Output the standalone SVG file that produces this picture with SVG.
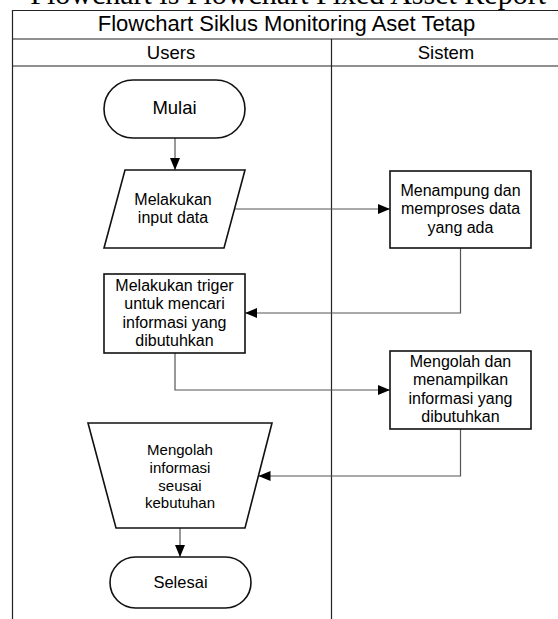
<svg xmlns="http://www.w3.org/2000/svg" width="558" height="619" viewBox="0 0 558 619">
<style>
  text { font-family: "Liberation Sans", Arial, sans-serif; fill: #000; text-anchor: middle; }
  .frame { fill: none; stroke: #222; stroke-width: 1.2; }
  .node { fill: #fff; stroke: #111; stroke-width: 1.6; }
  .conn { fill: none; stroke: #555; stroke-width: 1.2; }
  .t16 { font-size: 16px; }
  .t15 { font-size: 15px; }
</style>
<defs>
  <marker id="arrow" viewBox="0 0 12 10" refX="12" refY="5" markerWidth="12" markerHeight="10" markerUnits="userSpaceOnUse" orient="auto">
    <path d="M0,0 L12,5 L0,10 z" fill="#000"/>
  </marker>
</defs>
<rect width="558" height="619" fill="#fff"/>
<text x="546" y="4" style="font-family:'Liberation Serif','Times New Roman',serif;font-size:30px;text-anchor:end">Flowchart is Flowchart Fixed Asset Report</text>
<g id="frame">
  <path class="frame" d="M12.5,619 V10.5 H561 M12.5,39 H561 M12.5,66 H561 M331.5,39 V619"/>
  <text x="286.5" y="31" style="font-size:22px">Flowchart Siklus Monitoring Aset Tetap</text>
  <text x="171" y="58.5" style="font-size:18.5px">Users</text>
  <text x="446" y="58.5" style="font-size:18.5px">Sistem</text>
</g>
<g id="connectors">
  <line class="conn" x1="175" y1="138" x2="175" y2="170" marker-end="url(#arrow)"/>
  <line class="conn" x1="234" y1="209" x2="390" y2="209" marker-end="url(#arrow)"/>
  <polyline class="conn" points="460.5,248 460.5,313 245,313" marker-end="url(#arrow)"/>
  <polyline class="conn" points="175,353 175,390 390,390" marker-end="url(#arrow)"/>
  <polyline class="conn" points="460.5,429 460.5,476 258.5,476" marker-end="url(#arrow)"/>
  <line class="conn" x1="180" y1="528" x2="180" y2="557" marker-end="url(#arrow)"/>
</g>
<g id="mulai">
  <rect class="node" x="104" y="80" width="141" height="58" rx="29"/>
  <text x="174.5" y="114" style="font-size:18.5px">Mulai</text>
</g>
<g id="input-data">
  <polygon class="node" points="125,170 245,170 224,248 104,248"/>
  <text class="t16" x="173" y="205">Melakukan</text>
  <text class="t16" x="173" y="223">input data</text>
</g>
<g id="menampung">
  <rect class="node" x="390" y="171" width="141" height="77"/>
  <text class="t16" x="460.5" y="196">Menampung dan</text>
  <text class="t16" x="460.5" y="214">memproses data</text>
  <text class="t16" x="460.5" y="233">yang ada</text>
</g>
<g id="triger">
  <rect class="node" x="104" y="274" width="141" height="79"/>
  <text class="t16" x="174.5" y="291">Melakukan triger</text>
  <text class="t16" x="174.5" y="309">untuk mencari</text>
  <text class="t16" x="174.5" y="328">informasi yang</text>
  <text class="t16" x="174.5" y="346">dibutuhkan</text>
</g>
<g id="mengolah-sistem">
  <rect class="node" x="390" y="351" width="141" height="78"/>
  <text class="t16" x="460.5" y="367">Mengolah dan</text>
  <text class="t16" x="460.5" y="385">menampilkan</text>
  <text class="t16" x="460.5" y="404">informasi yang</text>
  <text class="t16" x="460.5" y="422">dibutuhkan</text>
</g>
<g id="mengolah-user">
  <polygon class="node" points="88,423 272,423 245,528 116,528"/>
  <text class="t15" x="180" y="455">Mengolah</text>
  <text class="t15" x="180" y="473">informasi</text>
  <text class="t15" x="180" y="491">seusai</text>
  <text class="t15" x="180" y="508">kebutuhan</text>
</g>
<g id="selesai">
  <rect class="node" x="110" y="557" width="141" height="51" rx="25.5"/>
  <text x="180.5" y="588" style="font-size:16.5px">Selesai</text>
</g>
</svg>
